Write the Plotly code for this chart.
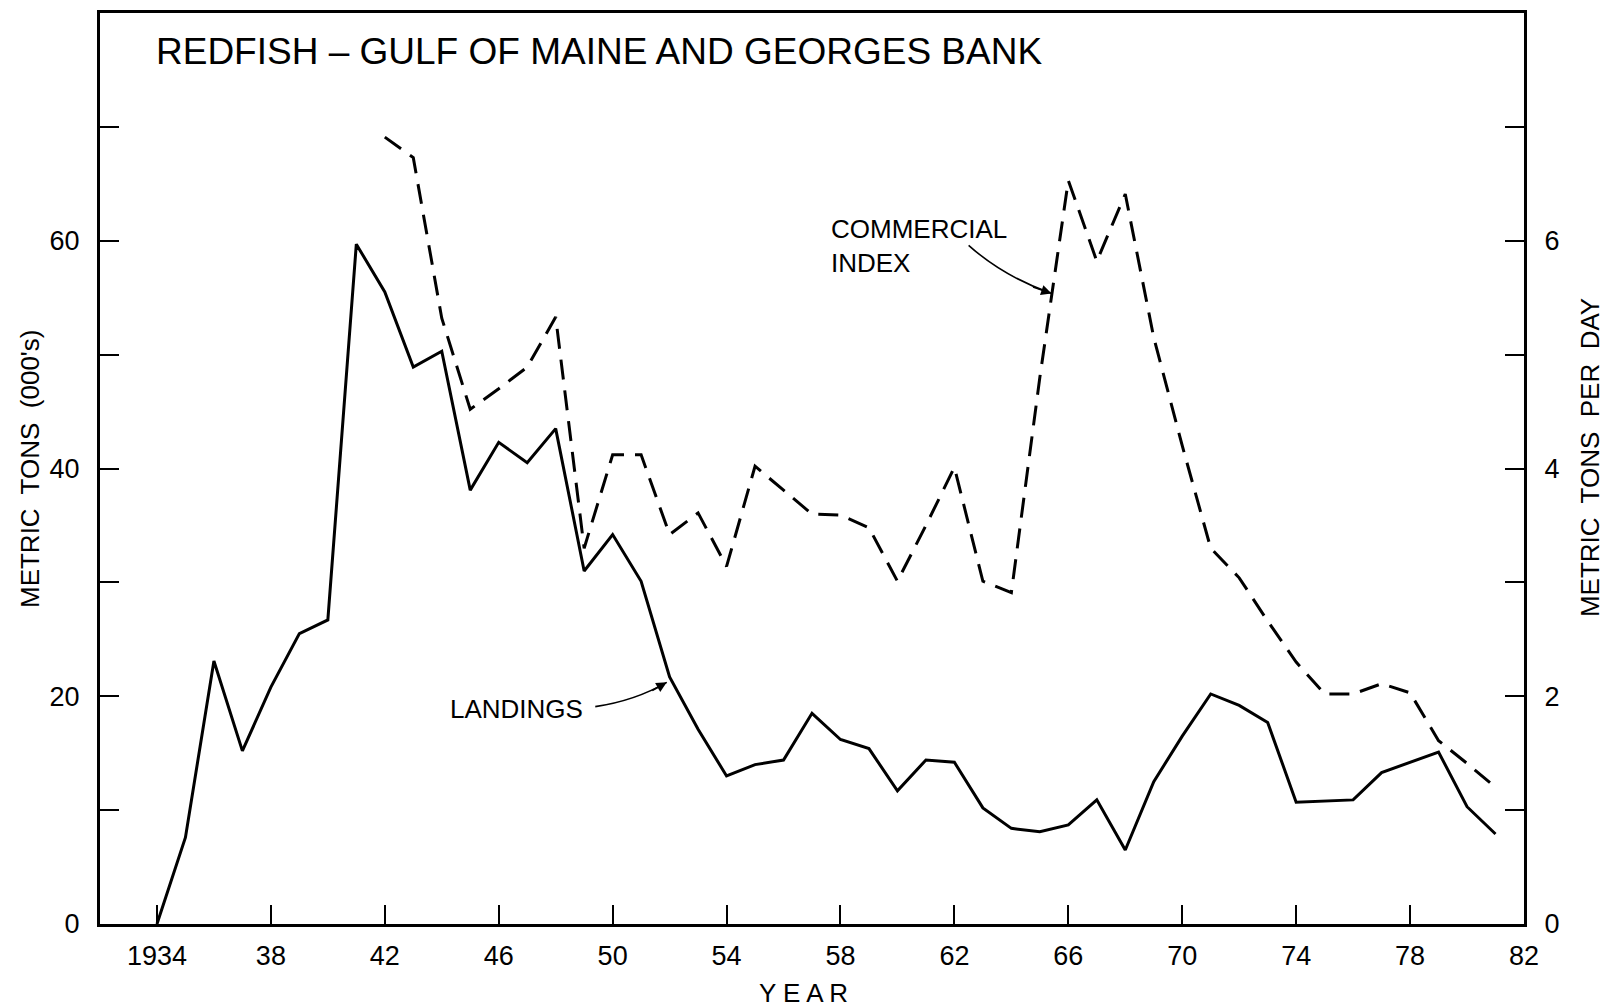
#############################################
# Redfish landings and commercial index plot #
#############################################

import plotly.graph_objects as go

# landings, thousands of metric tons (left axis)
landing_years = [1934, 1935, 1936, 1937, 1938, 1939, 1940, 1941, 1942, 1943,
                 1944, 1945, 1946, 1947, 1948, 1949, 1950, 1951, 1952, 1953,
                 1954, 1955, 1956, 1957, 1958, 1959, 1960, 1961, 1962, 1963,
                 1964, 1965, 1966, 1967, 1968, 1969, 1970, 1971, 1972, 1973,
                 1974, 1975, 1976, 1977, 1978, 1979, 1980, 1981]
landings = [0, 7.6, 23.1, 15.2, 20.8, 25.5, 26.7, 59.7, 55.5, 48.9,
            50.3, 38.1, 42.3, 40.5, 43.5, 31.0, 34.2, 30.1, 21.7, 17.1,
            13.0, 14.0, 14.4, 18.5, 16.2, 15.4, 11.7, 14.4, 14.2, 10.2,
            8.4, 8.1, 8.7, 10.9, 6.5, 12.5, 16.5, 20.2, 19.2, 17.7,
            10.7, 10.8, 10.9, 13.3, 14.2, 15.1, 10.3, 7.9]

# commercial index, metric tons per day (right axis)
index_years = [1942, 1943, 1944, 1945, 1946, 1947, 1948, 1949, 1950, 1951,
               1952, 1953, 1954, 1955, 1956, 1957, 1958, 1959, 1960, 1961,
               1962, 1963, 1964, 1965, 1966, 1967, 1968, 1969, 1970, 1971,
               1972, 1973, 1974, 1975, 1976, 1977, 1978, 1979, 1980, 1981]
commercial_index = [6.91, 6.73, 5.32, 4.52, 4.70, 4.89, 5.33, 3.30, 4.12, 4.12,
                    3.42, 3.61, 3.14, 4.02, 3.81, 3.60, 3.59, 3.48, 3.01, 3.50,
                    4.01, 3.01, 2.91, 4.80, 6.53, 5.82, 6.41, 5.15, 4.20, 3.30,
                    3.04, 2.66, 2.30, 2.02, 2.02, 2.11, 2.03, 1.61, 1.41, 1.20]

# axis ticks
x_tickvals = [1934, 1938, 1942, 1946, 1950, 1954, 1958, 1962, 1966, 1970, 1974, 1978, 1982]
x_ticktext = ['1934', '38', '42', '46', '50', '54', '58', '62', '66', '70', '74', '78', '82']
left_tickvals = [0, 10, 20, 30, 40, 50, 60, 70]
left_ticktext = ['0', '', '20', '', '40', '', '60', '']
right_tickvals = [0, 1, 2, 3, 4, 5, 6, 7]
right_ticktext = ['0', '', '2', '', '4', '', '6', '']

FONT = 'Liberation Sans, Arial, sans-serif'

fig = go.Figure()
fig.add_trace(go.Scatter(x=landing_years, y=landings, mode='lines',
                         line=dict(color='black', width=3), yaxis='y',
                         showlegend=False, hoverinfo='skip'))
fig.add_trace(go.Scatter(x=index_years, y=commercial_index, mode='lines',
                         line=dict(color='black', width=3, dash='20px,11px'),
                         yaxis='y2', showlegend=False, hoverinfo='skip'))

axis_common = dict(showgrid=False, zeroline=False, showline=True, linecolor='black',
                   linewidth=3, ticks='inside', ticklen=19, tickwidth=2,
                   tickcolor='black', tickfont=dict(family=FONT, size=27, color='black'))

fig.update_layout(
    width=1608, height=1007,
    margin=dict(l=100, r=84, t=10, b=83),
    plot_bgcolor='white', paper_bgcolor='white',
    xaxis=dict(range=[1932, 1982], tickvals=x_tickvals, ticktext=x_ticktext,
               mirror=True, ticklabelstandoff=6, **axis_common),
    yaxis=dict(range=[0, 80], tickvals=left_tickvals, ticktext=left_ticktext,
               ticklabelstandoff=12, **axis_common),
    yaxis2=dict(range=[0, 8], tickvals=right_tickvals, ticktext=right_ticktext,
                overlaying='y', side='right', ticklabelstandoff=12, **axis_common),
)

# curved pointer lines (data coords, left axis units)
arrows = [
    # tail, control, tip
    ((1949.39, 19.09), (1950.79, 19.61), (1951.90, 21.22)),
    ((1962.50, 59.60), (1963.70, 56.90), (1965.41, 55.37)),
]
for (x0, y0), (cx, cy), (x1, y1) in arrows:
    fig.add_shape(type='path', xref='x', yref='y',
                  path=f'M {x0},{y0} Q {cx},{cy} {x1},{y1}',
                  line=dict(color='black', width=1.6))
fig.add_annotation(x=1951.90, y=21.22, xref='x', yref='y', text='', showarrow=True,
                   arrowhead=2, arrowsize=1.3, arrowwidth=1.6, arrowcolor='black', ax=-16, ay=9)
fig.add_annotation(x=1965.41, y=55.37, xref='x', yref='y', text='', showarrow=True,
                   arrowhead=2, arrowsize=1.3, arrowwidth=1.6, arrowcolor='black', ax=-20, ay=-7)

# text labels
text_font = dict(family=FONT, size=26, color='black')
fig.add_annotation(text='REDFISH \u2013 GULF OF MAINE AND GEORGES BANK', xref='paper', yref='paper',
                   x=0.038, y=0.958, xanchor='left', yanchor='middle', showarrow=False,
                   font=dict(family=FONT, size=37, color='black'))
fig.add_annotation(text='LANDINGS', xref='paper', yref='paper', x=0.2446, y=0.2356,
                   xanchor='left', yanchor='middle', showarrow=False, font=text_font)
fig.add_annotation(text='COMMERCIAL<br>INDEX', xref='paper', yref='paper', x=0.512, y=0.744,
                   xanchor='left', yanchor='middle', align='left', showarrow=False,
                   font=dict(family=FONT, size=26, color='black'))
fig.add_annotation(text='Y E A R', xref='paper', yref='paper', x=0.4937, y=-0.0755,
                   xanchor='center', yanchor='middle', showarrow=False, font=text_font)
fig.add_annotation(text="METRIC  TONS  (000's)", xref='paper', yref='paper', x=-0.0495, y=0.5,
                   xanchor='center', yanchor='middle', textangle=-90, showarrow=False,
                   font=text_font)
fig.add_annotation(text='METRIC  TONS  PER  DAY', xref='paper', yref='paper', x=1.046, y=0.512,
                   xanchor='center', yanchor='middle', textangle=-90, showarrow=False,
                   font=text_font)

# drop the default page margin so the figure sits at the window corner
fig.write_html("out.html", config={'displayModeBar': False},
               post_script="document.body.style.margin='0';")
